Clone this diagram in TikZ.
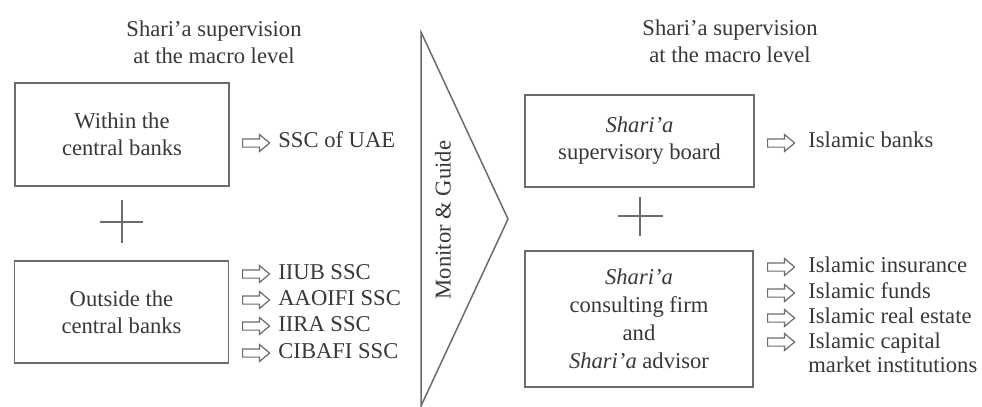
\documentclass[tikz,border=0pt]{standalone}
\usepackage{fontspec}
\setmainfont{Liberation Serif}
\usetikzlibrary{shapes.arrows}
\definecolor{inkc}{gray}{0.22}
\definecolor{linec}{gray}{0.42}
\begin{document}
\begin{tikzpicture}[x=0.5pt,y=-0.5pt,
  every node/.style={text=inkc,font=\fontsize{11.3}{13.5}\selectfont},
  title/.style={align=center},
  box/.style={draw=linec,line width=0.75pt,align=center,inner sep=2pt},
  item/.style={anchor=west,inner sep=0pt,text height=0.7em,text depth=0.2em},
  itemtwo/.style={anchor=west,inner sep=0pt,align=left,font=\fontsize{11.3}{12.2}\selectfont},
  arr/.style={single arrow,draw=linec,line width=0.6pt,inner xsep=0pt,inner ysep=1.75pt,
    minimum height=13.5pt,single arrow head extend=2.2pt,single arrow tip angle=80,anchor=west},
  plusline/.style={draw=linec,line width=0.75pt}
]
\useasboundingbox (0,0) rectangle (982,407);

% left column
\node[title] (tl) at (214,42) {Shari’a supervision\\at the macro level};
\node[box,minimum width=107pt,minimum height=51.5pt] (lb1) at (122,134.5) {Within the\\central banks};
\node[box,minimum width=107pt,minimum height=51pt] (lb2) at (121.5,312) {Outside the\\central banks};
\draw[plusline] (100,222) -- (143,222);
\draw[plusline] (122,200) -- (122,243);

\node[arr] (la1) at (242,143) {};
\node[item] (lt1) at (278,143) {SSC of UAE};
\node[arr] (la2) at (242,274) {};
\node[item] (lt2) at (278,274) {IIUB SSC};
\node[arr] (la3) at (242,300) {};
\node[item] (lt3) at (278,300) {AAOIFI SSC};
\node[arr] (la4) at (242,326) {};
\node[item] (lt4) at (278,326) {IIRA SSC};
\node[arr] (la5) at (242,353) {};
\node[item] (lt5) at (278,353) {CIBAFI SSC};

% chevron
\coordinate (ct) at (421,32);
\coordinate (cp) at (508,219);
\coordinate (cb) at (421,406);
\coordinate (cbb) at (421,408);
\draw[linec,line width=0.75pt,line join=miter] (cb) -- (cp) -- (ct) -- (cbb);
\node[rotate=90] (mg) at (443,220) {Monitor \& Guide};

% right column
\node[title] (tr) at (730,41) {Shari’a supervision\\at the macro level};
\node[box,minimum width=114.5pt,minimum height=46pt] (rb1) at (639.5,141) {\textit{Shari’a}\\supervisory board};
\node[box,minimum width=114pt,minimum height=68pt,font=\fontsize{11.3}{14}\selectfont] (rb2) at (639,319)
  {\textit{Shari’a}\\consulting firm\\and\\\textit{Shari’a} advisor};
\draw[plusline] (618,216) -- (663,216);
\draw[plusline] (640,197) -- (640,236);

\node[arr] (ra1) at (767,143) {};
\node[item] (rt1) at (808,143) {Islamic banks};
\node[arr] (ra2) at (767,267) {};
\node[item] (rt2) at (808,267) {Islamic insurance};
\node[arr] (ra3) at (767,293) {};
\node[item] (rt3) at (808,293) {Islamic funds};
\node[arr] (ra4) at (767,318) {};
\node[item] (rt4) at (808,318) {Islamic real estate};
\node[arr] (ra5) at (767,342) {};
\node[itemtwo] (rt5) at (808,353) {Islamic capital\\market institutions};
\end{tikzpicture}
\end{document}
